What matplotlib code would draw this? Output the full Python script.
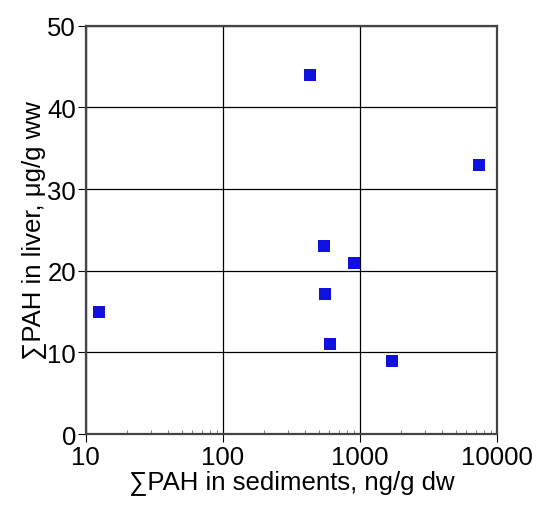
import matplotlib
matplotlib.use("Agg")
import matplotlib.pyplot as plt
from matplotlib.ticker import FixedLocator, FixedFormatter, LogLocator, NullFormatter

plt.rcParams["font.family"] = ["Liberation Sans", "DejaVu Sans"]

# PAH in sediments (ng/g dw) vs PAH in liver (ug/g ww)
sediments = [12.4, 434, 7430, 546, 908, 558, 605, 1730]
liver = [15.0, 44.0, 33.0, 23.1, 21.0, 17.2, 11.1, 8.9]

x_ticks = [10, 100, 1000, 10000]
x_labels = ["10", "100", "1000", "10000"]
y_ticks = [0, 10, 20, 30, 40, 50]

fig = plt.figure(figsize=(5.36, 5.06), dpi=100)
ax = fig.add_axes([0.160, 0.140, 0.767, 0.807])

ax.scatter(sediments, liver, marker="s", s=85, color="#1010e0", zorder=3, linewidths=0)

ax.set_xscale("log")
ax.set_xlim(10, 10000)
ax.set_ylim(0, 50)
ax.xaxis.set_major_locator(FixedLocator(x_ticks))
ax.xaxis.set_major_formatter(FixedFormatter(x_labels))
ax.xaxis.set_minor_locator(LogLocator(base=10, subs=range(2, 10)))
ax.xaxis.set_minor_formatter(NullFormatter())
ax.set_yticks(y_ticks)

ax.grid(True, which="major", color="black", linewidth=0.9)
ax.tick_params(which="major", direction="out", length=6, width=0.8, labelsize=18.5)
ax.tick_params(axis="y", which="major", pad=1)
ax.tick_params(axis="x", which="major", pad=2)
ax.tick_params(which="minor", direction="in", length=3, width=0.6, color="#666666")
for s in ax.spines.values():
    s.set_color("#444444")
    s.set_linewidth(1.6)

ax.set_xlabel("\u2211PAH in sediments, ng/g dw", fontsize=18.5, labelpad=0)
ax.set_ylabel("\u2211PAH in liver, \u03bcg/g ww", fontsize=18.5, labelpad=1)

fig.savefig("out.png", dpi=100)
